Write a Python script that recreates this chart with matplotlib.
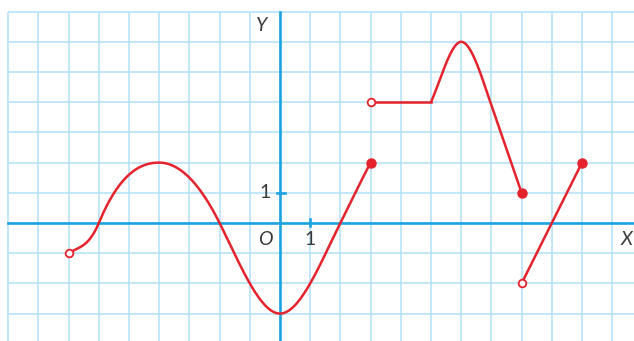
import numpy as np
import matplotlib.pyplot as plt

# key points (x, y, slope at the point)
wave_x = [-7, -6, -4, -2, 0, 2, 3]
wave_y = [-1, 0, 2, 0, -3, 0, 2]
wave_slope = [0.6, 2.4, 0, -2.0, 0, 2.0, 1.9]

flat_x = [3, 5]
flat_y = [4, 4]

hump_x = [5, 6, 7, 8]
hump_y = [4, 6, 3.9, 1]
hump_slope = [2.3, 0, -2.9, -2.9]

line_x = [8, 10]
line_y = [-2, 2]

open_pts_x = [-7, 3, 8]
open_pts_y = [-1, 4, -2]
closed_pts_x = [3, 8, 10]
closed_pts_y = [2, 1, 2]

RED = '#e5232d'
GRID = '#b0e0f6'
AXIS = '#1ea3e0'
TEXT = '#3a3a3a'


def hermite(xs, ys, ms, n=60):
    """Smooth curve through knots with given slopes (cubic Hermite)."""
    out_x, out_y = [], []
    for i in range(len(xs) - 1):
        h = xs[i + 1] - xs[i]
        t = np.linspace(0, 1, n)
        h00 = 2 * t**3 - 3 * t**2 + 1
        h10 = t**3 - 2 * t**2 + t
        h01 = -2 * t**3 + 3 * t**2
        h11 = t**3 - t**2
        out_x.extend(xs[i] + t * h)
        out_y.extend(h00 * ys[i] + h10 * h * ms[i] + h01 * ys[i + 1] + h11 * h * ms[i + 1])
    return np.array(out_x), np.array(out_y)


fig = plt.figure(figsize=(6.34, 3.41), dpi=100)
ax = fig.add_axes([0, 0, 1, 1])
unit = 30.2
x0, x1 = -280 / unit, (634 - 280) / unit
y0, y1 = -(341 - 223) / unit, 223 / unit
ax.set_xlim(x0, x1)
ax.set_ylim(y0, y1)
ax.axis('off')

# grid starts at x=-9, y=7
ax.vlines(np.arange(-9, 12), y0, 7, color=GRID, lw=1.1, zorder=1)
ax.hlines(np.arange(-3, 8), -9, x1, color=GRID, lw=1.1, zorder=1)

# axes
ax.plot([-9, x1], [0, 0], color=AXIS, lw=1.9, zorder=2)
ax.plot([0, 0], [y0, 7], color=AXIS, lw=1.9, zorder=2)
ax.plot([1, 1], [-0.1, 0.13], color=AXIS, lw=1.9, zorder=2)
ax.plot([-0.1, 0.17], [1, 1], color=AXIS, lw=1.9, zorder=2)

# function pieces
wx, wy = hermite(wave_x, wave_y, wave_slope)
ax.plot(wx, wy, color=RED, lw=1.8, zorder=3, solid_capstyle='round')
ax.plot(flat_x, flat_y, color=RED, lw=1.8, zorder=3)
hx, hy = hermite(hump_x, hump_y, hump_slope)
ax.plot(hx, hy, color=RED, lw=1.8, zorder=3, solid_capstyle='round')
ax.plot(line_x, line_y, color=RED, lw=1.8, zorder=3)

ax.plot(open_pts_x, open_pts_y, 'o', ms=5.5, mfc='white', mec=RED, mew=1.3, zorder=4)
ax.plot(closed_pts_x, closed_pts_y, 'o', ms=6.5, color=RED, zorder=4)

# labels
font = dict(family=['Lato', 'DejaVu Sans'], fontsize=14, color=TEXT, ha='center', va='center')
ax.text(-0.6, 6.55, 'Y', style='italic', **font)
ax.text(11.48, -0.55, 'X', style='italic', **font)
ax.text(-0.5, -0.55, 'O', style='italic', **font)
ax.text(1, -0.55, '1', **font)
ax.text(-0.5, 1, '1', **font)

fig.savefig('out.png', dpi=100)
